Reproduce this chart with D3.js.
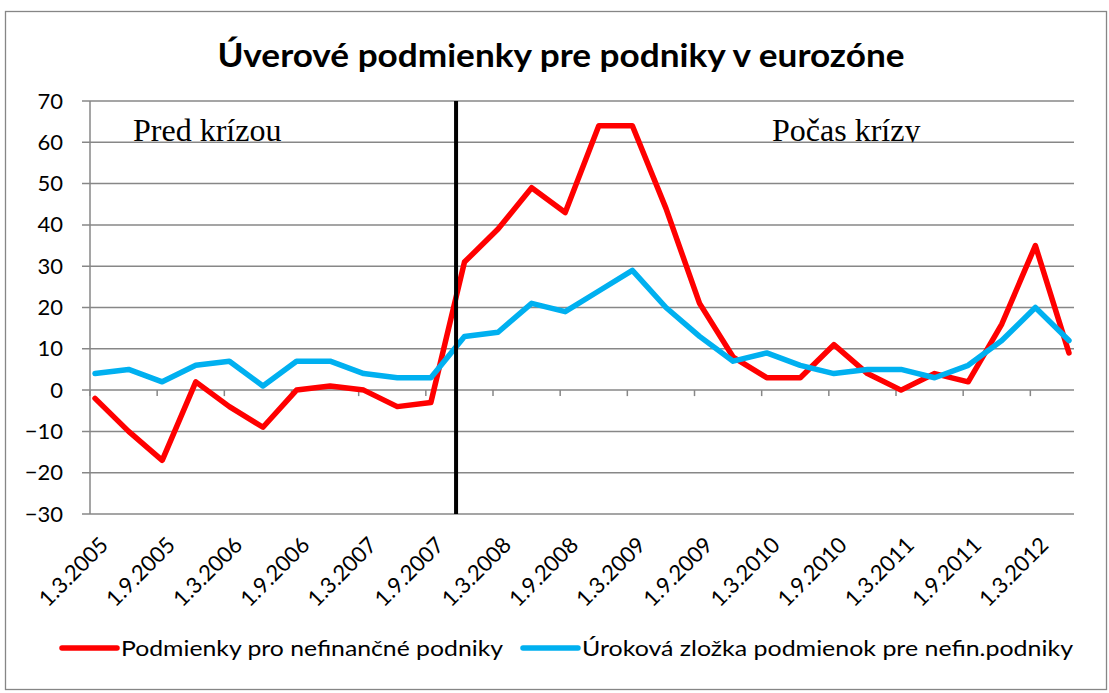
<!DOCTYPE html>
<html>
<head>
<meta charset="utf-8">
<script src="https://cdn.jsdelivr.net/npm/d3@7"></script>
<style>
  body { margin: 0; background: #fff; }
  text { font-family: Lato, "Open Sans", sans-serif; fill: #000; }
  text.serif { font-family: "Liberation Serif", "Times New Roman", serif; }
</style>
</head>
<body>
<div id="chart"></div>
<script>

// quarterly survey dates
var categories = [
  "1.3.2005", "1.6.2005", "1.9.2005", "1.12.2005",
  "1.3.2006", "1.6.2006", "1.9.2006", "1.12.2006",
  "1.3.2007", "1.6.2007", "1.9.2007", "1.12.2007",
  "1.3.2008", "1.6.2008", "1.9.2008", "1.12.2008",
  "1.3.2009", "1.6.2009", "1.9.2009", "1.12.2009",
  "1.3.2010", "1.6.2010", "1.9.2010", "1.12.2010",
  "1.3.2011", "1.6.2011", "1.9.2011", "1.12.2011",
  "1.3.2012", "1.6.2012"
];

var podmienky = [-2, -10, -17, 2, -4, -9, 0, 1, 0, -4, -3, 31, 39, 49, 43, 64, 64, 44, 21, 8, 3, 3, 11, 4, 0, 4, 2, 16, 35, 9];
var urokova = [4, 5, 2, 6, 7, 1, 7, 7, 4, 3, 3, 13, 14, 21, 19, 24, 29, 20, 13, 7, 9, 6, 4, 5, 5, 3, 6, 12, 20, 12];

var seriesNames = ["Podmienky pro nefinančné podniky", "Úroková zložka podmienok pre nefin.podniky"];
var seriesColors = ["#ff0000", "#00b0f0"];

var yTicks = [-30, -20, -10, 0, 10, 20, 30, 40, 50, 60, 70];

// crisis divider sits a bit after 1.9.2007 (index 10)
var crisisAt = 10.75;
var title = "Úverové podmienky pre podniky v eurozóne";
var periodLabels = ["Pred krízou", "Počas krízy"];

var width = 1109, height = 693;
var plot = { left: 90, right: 1074, top: 101, bottom: 514 };

var svg = d3.select("#chart").append("svg")
  .attr("width", width)
  .attr("height", height);

// outer frame
svg.append("rect")
  .attr("x", 5.5).attr("y", 11.5)
  .attr("width", 1101).attr("height", 678)
  .attr("fill", "#fff")
  .attr("stroke", "#868686")
  .attr("stroke-width", 1.3);

svg.append("text")
  .attr("x", 561).attr("y", 67)
  .attr("text-anchor", "middle")
  .attr("font-size", 33)
  .attr("font-weight", "bold")
  .attr("textLength", 687)
  .attr("lengthAdjust", "spacingAndGlyphs")
  .text(title);

// category positions, slight inset like the original
var x = d3.scalePoint()
  .domain(categories)
  .range([plot.left, plot.right])
  .padding(0.15);

// same positions as a linear index scale (for ticks and the divider)
var step = x.step();
var xi = d3.scaleLinear()
  .domain([0, categories.length - 1])
  .range([x(categories[0]), x(categories[categories.length - 1])]);

var y = d3.scaleLinear()
  .domain([-30, 70])
  .range([plot.bottom, plot.top]);

// gridlines
svg.append("g")
  .selectAll("line")
  .data(yTicks)
  .join("line")
  .attr("x1", plot.left - 8)
  .attr("x2", plot.right)
  .attr("y1", d => y(d))
  .attr("y2", d => y(d))
  .attr("stroke", "#878787")
  .attr("stroke-width", 1.5);

// y axis
var yAxis = svg.append("g")
  .attr("transform", "translate(" + plot.left + ",0)")
  .call(d3.axisLeft(y).tickValues(yTicks).tickSize(0).tickPadding(27));
yAxis.select(".domain")
  .attr("stroke", "#878787")
  .attr("stroke-width", 1.5)
  .attr("d", "M0," + plot.top + "V" + plot.bottom);
yAxis.selectAll("text")
  .attr("font-size", 22)
  .attr("fill", "#000");

// category ticks on the zero line, every second quarter
var tickIdx = d3.range(0, 16).map(k => 2 * k - (x(categories[0]) - plot.left) / step)
  .filter(t => xi(t) <= plot.right + 1);
svg.append("g")
  .selectAll("line")
  .data(tickIdx)
  .join("line")
  .attr("x1", d => xi(d))
  .attr("x2", d => xi(d))
  .attr("y1", y(0))
  .attr("y2", y(0) + 6)
  .attr("stroke", "#878787")
  .attr("stroke-width", 1.5);

// rotated category labels
svg.append("g")
  .selectAll("text")
  .data(categories.filter((d, i) => i % 2 === 0))
  .join("text")
  .attr("transform", d => "translate(" + (x(d) + 9) + "," + (plot.bottom + 27) + ") rotate(-45)")
  .attr("text-anchor", "end")
  .attr("dy", "0.35em")
  .attr("font-size", 22)
  .text(d => d);

// period labels, clipped at the 60 gridline like the text boxes
svg.append("clipPath").attr("id", "boxclip")
  .append("rect")
  .attr("x", plot.left).attr("y", plot.top)
  .attr("width", plot.right - plot.left)
  .attr("height", y(60) - plot.top);

var periodX = [133, 772];
svg.append("g")
  .attr("clip-path", "url(#boxclip)")
  .selectAll("text")
  .data(periodLabels)
  .join("text")
  .attr("class", "serif")
  .attr("x", (d, i) => periodX[i])
  .attr("y", y(60) - 1)
  .attr("font-size", 32)
  .text(d => d);

// data lines
var line = d3.line()
  .x((d, i) => x(categories[i]))
  .y(d => y(d));

[podmienky, urokova].forEach(function(values, s) {
  svg.append("path")
    .datum(values)
    .attr("d", line)
    .attr("fill", "none")
    .attr("stroke", seriesColors[s])
    .attr("stroke-width", 5.5)
    .attr("stroke-linejoin", "round")
    .attr("stroke-linecap", "round");
});

// crisis divider
svg.append("line")
  .attr("x1", xi(crisisAt))
  .attr("x2", xi(crisisAt))
  .attr("y1", y(70))
  .attr("y2", y(-30))
  .attr("stroke", "#000")
  .attr("stroke-width", 4);

// legend
var legendX = [62, 523];
var legendW = [382, 491];
var legend = svg.append("g")
  .selectAll("g")
  .data(seriesNames)
  .join("g")
  .attr("transform", (d, i) => "translate(" + legendX[i] + ",648)");

legend.append("line")
  .attr("x1", 0).attr("x2", 55)
  .attr("stroke", (d, i) => seriesColors[i])
  .attr("stroke-width", 5.5)
  .attr("stroke-linecap", "round");

legend.append("text")
  .attr("x", 59)
  .attr("dy", "0.35em")
  .attr("font-size", 22)
  .attr("textLength", (d, i) => legendW[i])
  .attr("lengthAdjust", "spacingAndGlyphs")
  .text(d => d);

</script>
</body>
</html>
